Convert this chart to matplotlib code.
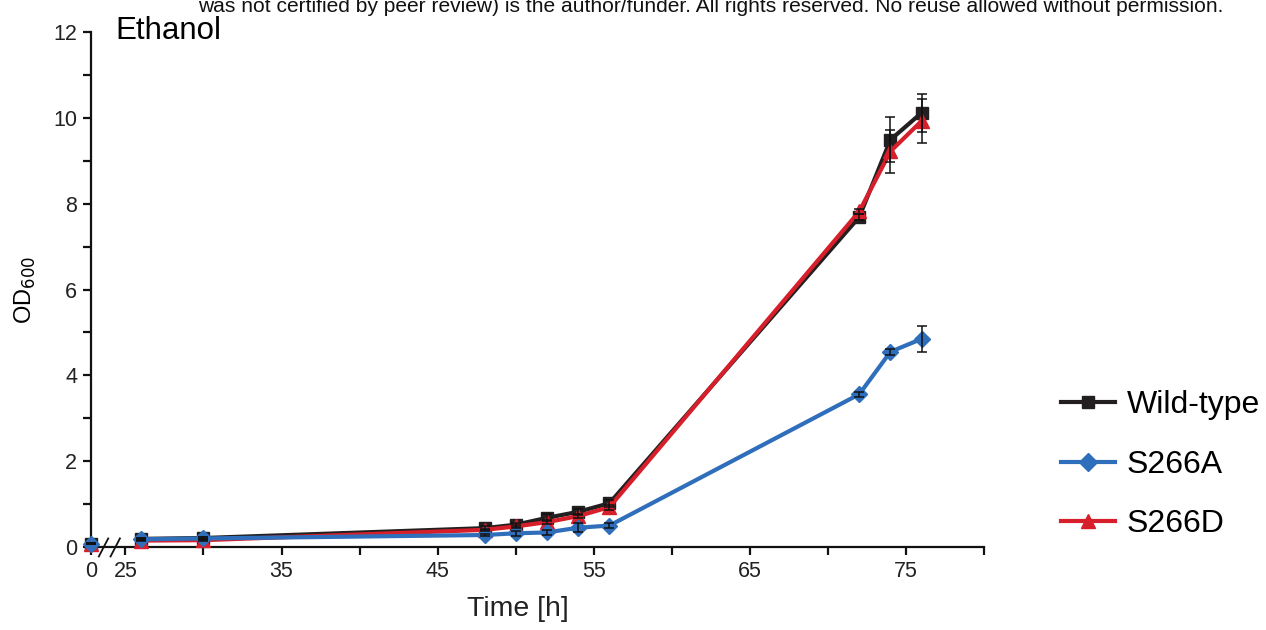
import matplotlib.pyplot as plt
from matplotlib.lines import Line2D
import numpy as np

plt.rcParams['font.family'] = ['Liberation Sans', 'DejaVu Sans']

time_h = [0, 26, 30, 48, 50, 52, 54, 56, 72, 74, 76]

wild_type = [0.08, 0.19, 0.21, 0.44, 0.52, 0.68, 0.82, 1.02, 7.69, 9.49, 10.12]
wild_type_err = [0.02, 0.02, 0.03, 0.05, 0.05, 0.08, 0.07, 0.08, 0.08, 0.52, 0.44]
s266a = [0.08, 0.18, 0.20, 0.28, 0.32, 0.34, 0.45, 0.50, 3.56, 4.55, 4.85]
s266a_err = [0.02, 0.02, 0.03, 0.03, 0.06, 0.05, 0.10, 0.06, 0.06, 0.07, 0.30]
s266d = [0.08, 0.15, 0.16, 0.40, 0.48, 0.58, 0.72, 0.93, 7.82, 9.22, 9.93]
s266d_err = [0.02, 0.02, 0.02, 0.03, 0.04, 0.05, 0.05, 0.06, 0.06, 0.50, 0.52]

x_ticks = [0, 25, 35, 45, 55, 65, 75]
x_minor = [30, 40, 50, 60, 70, 80]

# broken axis: t=0 is drawn just left of the break
ZERO_POS = 22.8


def xpos(t):
    t = np.asarray(t, dtype=float)
    return np.where(t < 25, ZERO_POS + t, t)


fig = plt.figure(figsize=(12.66, 6.30), dpi=100)
ax = fig.add_axes([0.0719, 0.1317, 0.7055, 0.8175])

series = [
    ('Wild-type', wild_type, wild_type_err, '#231f20', 's', 9),
    ('S266D', s266d, s266d_err, '#d71f2b', '^', 10),
    ('S266A', s266a, s266a_err, '#2f6eba', 'D', 8.5),
]

xs = xpos(time_h)
for i, (name, y, err, col, mk, ms) in enumerate(series):
    y = np.asarray(y)
    ax.plot(xs[1:], y[1:], color=col, lw=3, zorder=2 + i)
    ax.plot(xs, y, ls='none', marker=mk, ms=ms, color=col, mec=col,
            zorder=2 + i, clip_on=False)
    ax.errorbar(xs, y, yerr=err, fmt='none', ecolor='#111111', elinewidth=1.1,
                capsize=3.5, capthick=1.1, zorder=6, clip_on=False)

ax.set_xlim(ZERO_POS, 80)
ax.set_ylim(0, 12)
ax.set_xticks(xpos(x_ticks))
ax.set_xticklabels([str(t) for t in x_ticks])
ax.set_xticks(x_minor, minor=True)
ax.set_yticks(range(0, 13, 2))
ax.set_yticks(range(1, 12, 2), minor=True)

for s in ['top', 'right']:
    ax.spines[s].set_visible(False)
for s in ['left', 'bottom']:
    ax.spines[s].set_linewidth(1.6)
    ax.spines[s].set_color('#111111')
ax.tick_params(which='both', direction='out', length=6, width=1.6,
               color='#111111', labelsize=15.5, labelcolor='#222222', pad=4)

# break marks
for x0 in [23.3, 24.05]:
    ax.plot([x0, x0 + 0.6], [-0.22, 0.2], color='#111111', lw=1.3,
            clip_on=False, zorder=7)

fig.text(518 / 1266, 1 - 609 / 630, 'Time [h]', fontsize=20.5, color='#222222',
         ha='center', va='center')
fig.text(0.02, 0.54, 'OD$_{600}$', rotation=90, fontsize=17,
         ha='center', va='center')
fig.text(0.0908, 0.938, 'Ethanol', fontsize=22.5)
fig.text(198 / 1266, 1 - 12 / 630, 'was not certified by peer review) is the author/funder. '
         'All rights reserved. No reuse allowed without permission.',
         fontsize=15.1, color='#111111')

handles = [
    Line2D([], [], color='#231f20', lw=3, marker='s', ms=9),
    Line2D([], [], color='#2f6eba', lw=3, marker='D', ms=9),
    Line2D([], [], color='#d71f2b', lw=3, marker='^', ms=10),
]
fig.legend(handles, ['Wild-type', 'S266A', 'S266D'], loc='upper left',
           bbox_to_anchor=(1061 / 1266, 1 - 390 / 630), frameon=False, fontsize=23,
           handlelength=1.7, handletextpad=0.35, labelspacing=0.93,
           borderpad=0, borderaxespad=0)

fig.savefig('out.png', dpi=100)
